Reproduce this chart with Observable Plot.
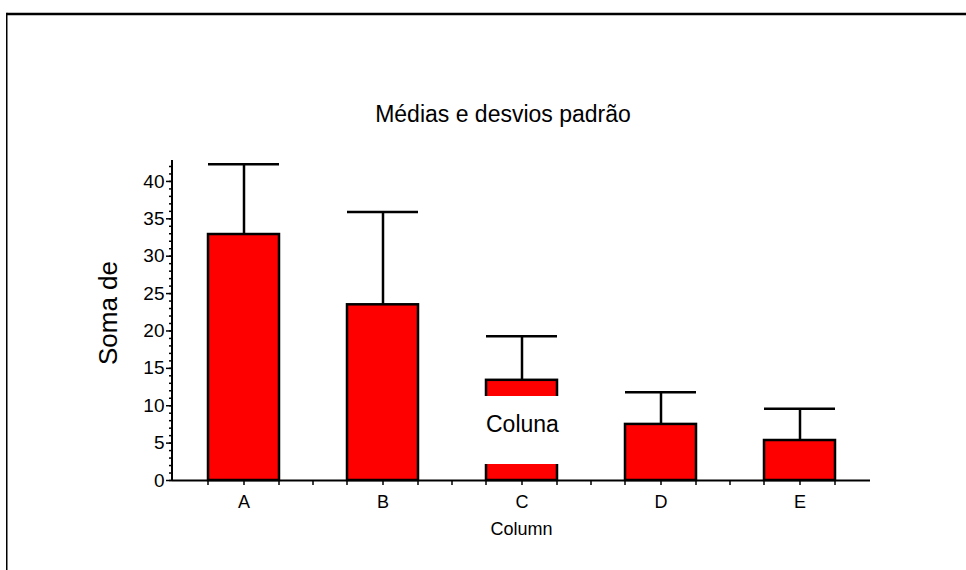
<!DOCTYPE html>
<html>
<head>
<meta charset="utf-8">
<script src="https://cdn.jsdelivr.net/npm/d3@7"></script>
<script src="https://cdn.jsdelivr.net/npm/@observablehq/plot@0.6"></script>
<style>
  html, body { margin: 0; padding: 0; background: white; }
  #chart svg { display: block; }
</style>
</head>
<body>
<div id="chart"></div>
<script>
// ---- data ----
const categories = ["A", "B", "C", "D", "E"];
const means = [32.9, 23.5, 13.4, 7.5, 5.35];
const sds = [9.4, 12.4, 5.9, 4.3, 4.25];
const yTicks = [0, 5, 10, 15, 20, 25, 30, 35, 40];
const yMinorTicks = [0,1,2,3,4,5,6,7,8,9,10,11,12,13,14,15,16,17,18,19,20,21,22,23,24,25,26,27,28,29,30,31,32,33,34,35,36,37,38,39,40,41,42];
const title = "Médias e desvios padrão";
const yLabel = "Soma de";
const innerLabel = "Coluna";
const xLabel = "Column";

const data = categories.map((c, i) => ({cat: c, mean: means[i], upper: means[i] + sds[i]}));

const FONT = "'Liberation Sans', Arial, sans-serif";

const chart = Plot.plot({
  width: 966,
  height: 570,
  marginLeft: 172,
  marginRight: 96,
  marginTop: 160,
  marginBottom: 90,
  style: {fontFamily: FONT, background: "white", color: "black", overflow: "visible"},
  x: {domain: categories, paddingInner: 0.49, paddingOuter: 0.245, label: null},
  y: {domain: [0, 42.8], label: null},
  marks: [
    Plot.axisX({tickSize: 5, tickPadding: 10, fontSize: 18, strokeWidth: 1.5, label: null}),
    Plot.axisY({ticks: yMinorTicks, tickSize: 3, tickFormat: () => "", strokeWidth: 1.5, label: null}),
    Plot.axisY({ticks: yTicks, tickSize: 6, tickPadding: 2, fontSize: 19, strokeWidth: 1.5, label: null}),
    Plot.ruleX(data, {x: "cat", y1: "mean", y2: "upper", stroke: "black", strokeWidth: 2.5}),
    Plot.tickY(data, {x: "cat", y: "upper", stroke: "black", strokeWidth: 2.5}),
    Plot.barY(data, {x: "cat", y: "mean", fill: "#ff0000", stroke: "black", strokeWidth: 2.5}),
    Plot.ruleY([0], {stroke: "black", strokeWidth: 2})
  ]
});

document.getElementById("chart").appendChild(chart);

// ---- decorations positioned from the scales ----
const svg = d3.select(chart);
const xs = chart.scale("x");
const ys = chart.scale("y");
const bw = xs.bandwidth;
const step = xs.step;
const y0 = ys.apply(0);
const yTop = ys.range[1];
const xLeft = 172, xRight = 966 - 96;

// y axis line
svg.append("line")
  .attr("x1", xLeft).attr("x2", xLeft)
  .attr("y1", yTop).attr("y2", y0)
  .attr("stroke", "black").attr("stroke-width", 2);

// minor x ticks at bar edges and inner band boundaries
const minorX = [];
categories.forEach((c, i) => {
  const s = xs.apply(c);
  const center = s + bw / 2;
  minorX.push(s, s + bw);
  if (i < categories.length - 1) minorX.push(center + step / 2);
});
svg.append("g").selectAll("line").data(minorX).join("line")
  .attr("x1", d => d).attr("x2", d => d)
  .attr("y1", y0).attr("y2", y0 + 5)
  .attr("stroke", "black").attr("stroke-width", 1.5);

// title
svg.append("text")
  .attr("x", (xLeft + xRight) / 2 - 18)
  .attr("y", yTop - 38)
  .attr("text-anchor", "middle")
  .attr("font-family", FONT).attr("font-size", 23)
  .attr("fill", "black")
  .text(title);

// y label
svg.append("text")
  .attr("transform", `translate(117, ${(yTop + y0) / 2 - 7}) rotate(-90)`)
  .attr("text-anchor", "middle")
  .attr("font-family", FONT).attr("font-size", 26)
  .attr("fill", "black")
  .text(yLabel);

// x label
svg.append("text")
  .attr("x", xs.apply("C") + bw / 2)
  .attr("y", y0 + 55)
  .attr("text-anchor", "middle")
  .attr("font-family", FONT).attr("font-size", 18)
  .attr("fill", "black")
  .text(xLabel);

// inner "Coluna" label with white box over bar C
const cx = xs.apply("C");
const boxG = svg.append("g");
const txt = svg.append("text")
  .attr("x", cx)
  .attr("y", y0 - 48)
  .attr("text-anchor", "start")
  .attr("font-family", FONT).attr("font-size", 23)
  .attr("fill", "black")
  .text(innerLabel);
const bb = txt.node().getBBox();
const bx1 = Math.min(bb.x, cx - 2);
const bx2 = Math.max(bb.x + bb.width, cx + bw + 2);
boxG.append("rect")
  .attr("x", bx1).attr("y", bb.y - 15)
  .attr("width", bx2 - bx1).attr("height", bb.height + 42)
  .attr("fill", "white");
txt.raise();

// outer frame (top and left edges visible)
svg.append("line").attr("x1", 6.75).attr("x2", 966).attr("y1", 14).attr("y2", 14)
  .attr("stroke", "black").attr("stroke-width", 2.5);
svg.append("line").attr("x1", 6.75).attr("x2", 6.75).attr("y1", 12.75).attr("y2", 570)
  .attr("stroke", "black").attr("stroke-width", 1.5);
</script>
</body>
</html>
